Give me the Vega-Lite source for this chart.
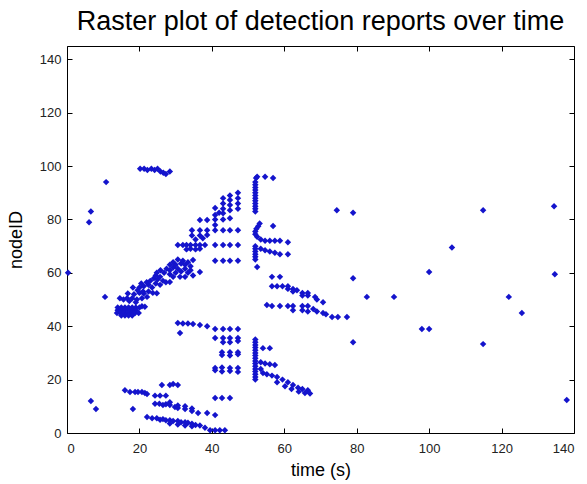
{
"$schema": "https://vega.github.io/schema/vega-lite/v6.json",
"width": 507, "height": 387,
"autosize": {"type": "none"},
"padding": {"left": 67, "top": 46, "right": 13, "bottom": 51},
"background": "white",
"title": {"text": "Raster plot of detection reports over time", "font": "Liberation Sans", "fontSize": 27, "fontWeight": "normal", "color": "#000", "anchor": "middle", "offset": 10},
"data": {"values": [
{"t":0.3,"n":60},{"t":6.1,"n":79},{"t":6.6,"n":83},{"t":10.8,"n":94},{"t":10.5,"n":51},{"t":6.6,"n":12},{"t":8,"n":9},
{"t":74.5,"n":83.5},{"t":79,"n":82.5},{"t":114.9,"n":83.5},{"t":134.5,"n":85},{"t":106.3,"n":69.5},{"t":79,"n":58},{"t":100,"n":60.3},{"t":134.7,"n":59.5},{"t":82.8,"n":51},{"t":90.3,"n":51},{"t":122,"n":51},{"t":125.6,"n":45},{"t":98,"n":39},{"t":100,"n":39},{"t":79,"n":34},{"t":114.9,"n":33.3},{"t":138,"n":12.4},{"t":18.2,"n":9},
{"t":20.2,"n":99},{"t":21.3,"n":99},{"t":22.2,"n":98.5},{"t":23.3,"n":99},{"t":24.2,"n":98.5},{"t":25,"n":99},{"t":25.8,"n":98},{"t":26.6,"n":97.5},{"t":27.3,"n":97},{"t":28.4,"n":98},
{"t":14,"n":47},{"t":15,"n":47},{"t":16,"n":47},{"t":17,"n":47},{"t":18,"n":47},{"t":19,"n":47},{"t":20,"n":47},
{"t":14,"n":46},{"t":15,"n":46},{"t":16,"n":46},{"t":17,"n":46},{"t":18,"n":46},{"t":19,"n":46},
{"t":13.8,"n":45},{"t":14.8,"n":45},{"t":15.8,"n":45},{"t":16.8,"n":45},{"t":17.8,"n":45},{"t":18.8,"n":45},{"t":19.8,"n":45},
{"t":15,"n":44},{"t":16,"n":44},{"t":17,"n":44},{"t":18,"n":44},{"t":20.7,"n":47.5},{"t":21.5,"n":47.3},
{"t":14.6,"n":50.5},{"t":15.6,"n":50},{"t":16.6,"n":50.5},{"t":18,"n":50.5},{"t":19.3,"n":50},{"t":20.7,"n":50.5},{"t":22.1,"n":51},{"t":17.2,"n":49.5},{"t":19,"n":49},
{"t":16.8,"n":52.3},{"t":18.5,"n":52},{"t":20,"n":52.5},{"t":21.2,"n":52.3},{"t":22.5,"n":53},{"t":23.7,"n":52.5},{"t":24.8,"n":52.4},{"t":19.5,"n":53.5},{"t":21,"n":53},
{"t":18.2,"n":54.5},{"t":20,"n":54.5},{"t":21.2,"n":55},{"t":22.5,"n":55.5},{"t":23.5,"n":54.5},{"t":24.5,"n":56},{"t":25.7,"n":55.5},{"t":20.5,"n":56},{"t":22,"n":56.5},
{"t":23,"n":57},{"t":24,"n":58},{"t":25,"n":57.5},{"t":25.7,"n":58.5},{"t":26.5,"n":57},{"t":27.3,"n":56.5},{"t":28.4,"n":56.6},{"t":24.5,"n":59},
{"t":24.8,"n":60},{"t":25.8,"n":61},{"t":26.8,"n":60},{"t":27.5,"n":61.5},{"t":28.4,"n":59.5},{"t":28.4,"n":61},{"t":29.3,"n":62},{"t":30,"n":60},
{"t":28.4,"n":63},{"t":29.3,"n":64},{"t":30,"n":63},{"t":30.6,"n":65},{"t":31.5,"n":63.5},{"t":32,"n":64.5},{"t":32.6,"n":63},{"t":33.4,"n":64},{"t":34.1,"n":62.5},{"t":34.8,"n":64.8},{"t":30.6,"n":61.5},{"t":31.5,"n":60.5},{"t":32.6,"n":61.5},{"t":33.4,"n":60},{"t":34.1,"n":61},{"t":34.8,"n":59},{"t":29.3,"n":58.5},{"t":31.2,"n":58.5},{"t":32.6,"n":58.5},{"t":36.7,"n":60.3},
{"t":40.9,"n":64.5},{"t":43.1,"n":64.5},{"t":45,"n":64.5},{"t":47.2,"n":64.5},
{"t":30.6,"n":70.4},{"t":32,"n":70.4},{"t":33,"n":70.4},{"t":34.1,"n":70.4},{"t":35.5,"n":70.4},{"t":36.7,"n":70.4},{"t":38.1,"n":70.4},{"t":40.9,"n":70.4},{"t":43.1,"n":70.4},{"t":45,"n":70.4},{"t":47.2,"n":70.4},
{"t":33,"n":68.8},{"t":34.1,"n":69},{"t":35.5,"n":68.8},{"t":36.7,"n":69},
{"t":34.5,"n":76},{"t":36.7,"n":76},{"t":38.7,"n":76},{"t":40.9,"n":76},{"t":43.1,"n":76},{"t":45,"n":76},{"t":47.2,"n":76},{"t":34.5,"n":74},{"t":36.7,"n":74},{"t":38.7,"n":74.2},{"t":35.5,"n":72.5},{"t":37.5,"n":73},
{"t":36.7,"n":79.8},{"t":38.7,"n":79.8},{"t":40.9,"n":80},{"t":43.1,"n":80},{"t":45,"n":80.5},
{"t":40.9,"n":84.3},{"t":40.9,"n":81.7},{"t":40.9,"n":77.9},{"t":43.1,"n":88},{"t":43.1,"n":86},{"t":43.1,"n":84},{"t":43.1,"n":82.3},{"t":45,"n":89},{"t":45,"n":87.3},{"t":45,"n":85.4},{"t":45,"n":83.5},{"t":47.2,"n":90},{"t":47.2,"n":88},{"t":47.2,"n":86},{"t":47.2,"n":84},{"t":42,"n":82.5},
{"t":52,"n":83},{"t":52,"n":84},{"t":52,"n":85},{"t":52,"n":86},{"t":52,"n":87},{"t":52,"n":88},{"t":52,"n":89},{"t":52,"n":90},{"t":52,"n":91},{"t":52,"n":92},{"t":52,"n":93},{"t":52,"n":94},{"t":52.2,"n":95.5},{"t":52.5,"n":96},{"t":54.7,"n":96},{"t":56.9,"n":95.5},
{"t":52.5,"n":62.2},{"t":52,"n":65},{"t":52,"n":66},{"t":52,"n":67},{"t":52,"n":68},{"t":52,"n":69},{"t":52,"n":70},
{"t":52.5,"n":73.5},{"t":52,"n":74.5},{"t":52,"n":75.5},{"t":52.3,"n":76.5},{"t":52.8,"n":77.5},{"t":53.2,"n":78.5},{"t":56.9,"n":77.6},
{"t":53.5,"n":72.5},{"t":54.7,"n":72},{"t":56,"n":72},{"t":57.4,"n":72},{"t":58.8,"n":72},{"t":61,"n":71.5},
{"t":53.5,"n":69},{"t":54.7,"n":68.5},{"t":56,"n":68},{"t":57.4,"n":67.5},{"t":58.8,"n":67},{"t":61,"n":67},
{"t":56.6,"n":58.5},{"t":58.8,"n":58.5},
{"t":56.6,"n":55},{"t":58,"n":55},{"t":59.5,"n":55},{"t":61,"n":55},{"t":62.4,"n":54},{"t":63.5,"n":53.5},{"t":65,"n":52.5},{"t":66.5,"n":51.5},{"t":68.5,"n":51},{"t":69,"n":50},{"t":70.7,"n":49},{"t":61,"n":54},{"t":62.4,"n":53},{"t":65,"n":51.5},{"t":66.5,"n":52.5},
{"t":56.6,"n":47.6},{"t":58.8,"n":47.6},{"t":61,"n":47.6},{"t":62.4,"n":47.6},{"t":65,"n":47.6},{"t":66.5,"n":47.6},{"t":55.2,"n":48},
{"t":62.4,"n":46},{"t":65,"n":46},{"t":66.5,"n":45.5},{"t":69,"n":45.5},{"t":70.7,"n":45},{"t":71.5,"n":44.5},{"t":68,"n":46.5},{"t":73.2,"n":43.5},{"t":74.8,"n":43.5},{"t":77.3,"n":43.5},
{"t":52,"n":20},{"t":52,"n":21},{"t":52,"n":22},{"t":52,"n":23},{"t":52,"n":24},{"t":52,"n":25},{"t":52,"n":26},{"t":52,"n":27},{"t":52,"n":28},{"t":52,"n":29},{"t":52,"n":30},{"t":52,"n":31},{"t":52,"n":32},{"t":52,"n":33},{"t":52,"n":34},{"t":52,"n":35},
{"t":54.1,"n":31.8},{"t":56,"n":31.8},{"t":53.5,"n":26.5},{"t":54.7,"n":26},{"t":56,"n":25.8},{"t":57.4,"n":25.5},
{"t":53.5,"n":24},{"t":54.1,"n":22.5},{"t":55.2,"n":22},{"t":56.6,"n":21.5},{"t":58,"n":21},{"t":59.5,"n":20},{"t":61,"n":19},{"t":62.4,"n":18},{"t":63.8,"n":17},{"t":65,"n":16.5},{"t":66.5,"n":16},{"t":58,"n":19},{"t":60.2,"n":17.5},{"t":62,"n":16.5},{"t":64,"n":15.5},{"t":65.7,"n":15},{"t":67.1,"n":14.8},
{"t":40.9,"n":39},{"t":43.1,"n":39},{"t":45,"n":39},{"t":47.2,"n":39},{"t":40.9,"n":35.6},{"t":43.1,"n":35.6},{"t":45,"n":35.6},{"t":47.2,"n":35.6},{"t":43.1,"n":34},{"t":45,"n":34},{"t":47.2,"n":34.5},
{"t":42.8,"n":30.3},{"t":45,"n":30.3},{"t":47.2,"n":30.3},{"t":42.8,"n":29.2},{"t":45,"n":29},{"t":47.2,"n":29.5},
{"t":40.9,"n":24.4},{"t":42.8,"n":24.5},{"t":45,"n":24.4},{"t":47.2,"n":24.4},{"t":42.8,"n":23},{"t":45,"n":23.2},{"t":47.2,"n":22.9},{"t":40.9,"n":23.5},
{"t":40.9,"n":13.1},{"t":42.8,"n":13.1},{"t":45,"n":13.1},
{"t":30.6,"n":41.2},{"t":32,"n":41},{"t":33.4,"n":41},{"t":34.8,"n":40.8},{"t":36.7,"n":40.5},{"t":38.7,"n":40},{"t":31.2,"n":37.5},
{"t":26.2,"n":18},{"t":28.4,"n":18},{"t":29.3,"n":18.4},{"t":30.6,"n":18},
{"t":16,"n":16},{"t":17.4,"n":15.4},{"t":18.8,"n":15.4},{"t":19.6,"n":15.4},{"t":20.7,"n":15.4},{"t":21.5,"n":15},{"t":22.1,"n":14.6},
{"t":24.3,"n":14},{"t":25.7,"n":14},{"t":27.3,"n":14},
{"t":24.3,"n":11},{"t":25.5,"n":11},{"t":26.5,"n":10.5},{"t":27.3,"n":10.8},{"t":28.4,"n":10.5},{"t":29.8,"n":9.7},{"t":30.6,"n":9.4},{"t":32.6,"n":9},{"t":34.5,"n":8.2},{"t":36.2,"n":7.5},{"t":38.7,"n":7.5},{"t":40.9,"n":6.7},{"t":28.4,"n":11.5},{"t":30.6,"n":10.3},{"t":32.6,"n":10},{"t":34.5,"n":9.2},
{"t":22.1,"n":6},{"t":23.5,"n":5.5},{"t":24.8,"n":5.5},{"t":25.7,"n":5},{"t":26.5,"n":5.2},{"t":27.3,"n":4.8},{"t":28.4,"n":4.8},{"t":29.3,"n":4.5},{"t":30.6,"n":4.5},{"t":31.5,"n":4},{"t":32.6,"n":4},{"t":33.4,"n":3.8},{"t":34.5,"n":3.5},{"t":35.5,"n":3},{"t":36.7,"n":2.8},{"t":38.1,"n":2},{"t":39.5,"n":1},{"t":40.9,"n":1},{"t":42.2,"n":1},{"t":43.6,"n":1},{"t":28.4,"n":3.6},{"t":30.6,"n":3.2},{"t":32.6,"n":2.8},{"t":34.5,"n":2.5}
]},
"layer": [
{"mark": {"type": "point", "shape": "diamond", "filled": true, "size": 42, "color": "#1414cc", "opacity": 1},
 "encoding": {
  "x": {"field": "t", "type": "quantitative", "scale": {"domain": [0, 140], "nice": false, "zero": false},
        "axis": {"title": "time (s)", "values": [0,20,40,60,80,100,120,140], "grid": false, "domain": false, "offset": -5, "tickSize": 5, "labelPadding": 9, "titlePadding": 6}},
  "y": {"field": "n", "type": "quantitative", "scale": {"domain": [0, 145], "nice": false, "zero": false},
        "axis": {"title": "nodeID", "values": [0,20,40,60,80,100,120,140], "grid": false, "domain": false, "offset": -5, "tickSize": 5, "labelPadding": 6, "titlePadding": 14}}
 }},
{"mark": {"type": "point", "opacity": 0},
 "encoding": {
  "x": {"field": "t", "type": "quantitative", "scale": {"domain": [0, 140], "nice": false, "zero": false},
        "axis": {"orient": "top", "title": null, "labels": false, "domain": false, "grid": false, "values": [0,20,40,60,80,100,120,140], "offset": -5, "tickSize": 5}},
  "y": {"field": "n", "type": "quantitative", "scale": {"domain": [0, 145], "nice": false, "zero": false},
        "axis": {"orient": "right", "title": null, "labels": false, "domain": false, "grid": false, "values": [0,20,40,60,80,100,120,140], "offset": -5, "tickSize": 5}}
 }}
],
"resolve": {"axis": {"x": "independent", "y": "independent"}},
"config": {
 "view": {"stroke": "#000", "strokeWidth": 1},
 "axis": {"domainColor": "#000", "tickColor": "#000", "labelColor": "#222", "labelFont": "Liberation Sans", "labelFontSize": 13, "titleFont": "Liberation Sans", "titleFontSize": 18, "titleFontWeight": "normal", "titleColor": "#000", "labelAngle": 0}
}
}
